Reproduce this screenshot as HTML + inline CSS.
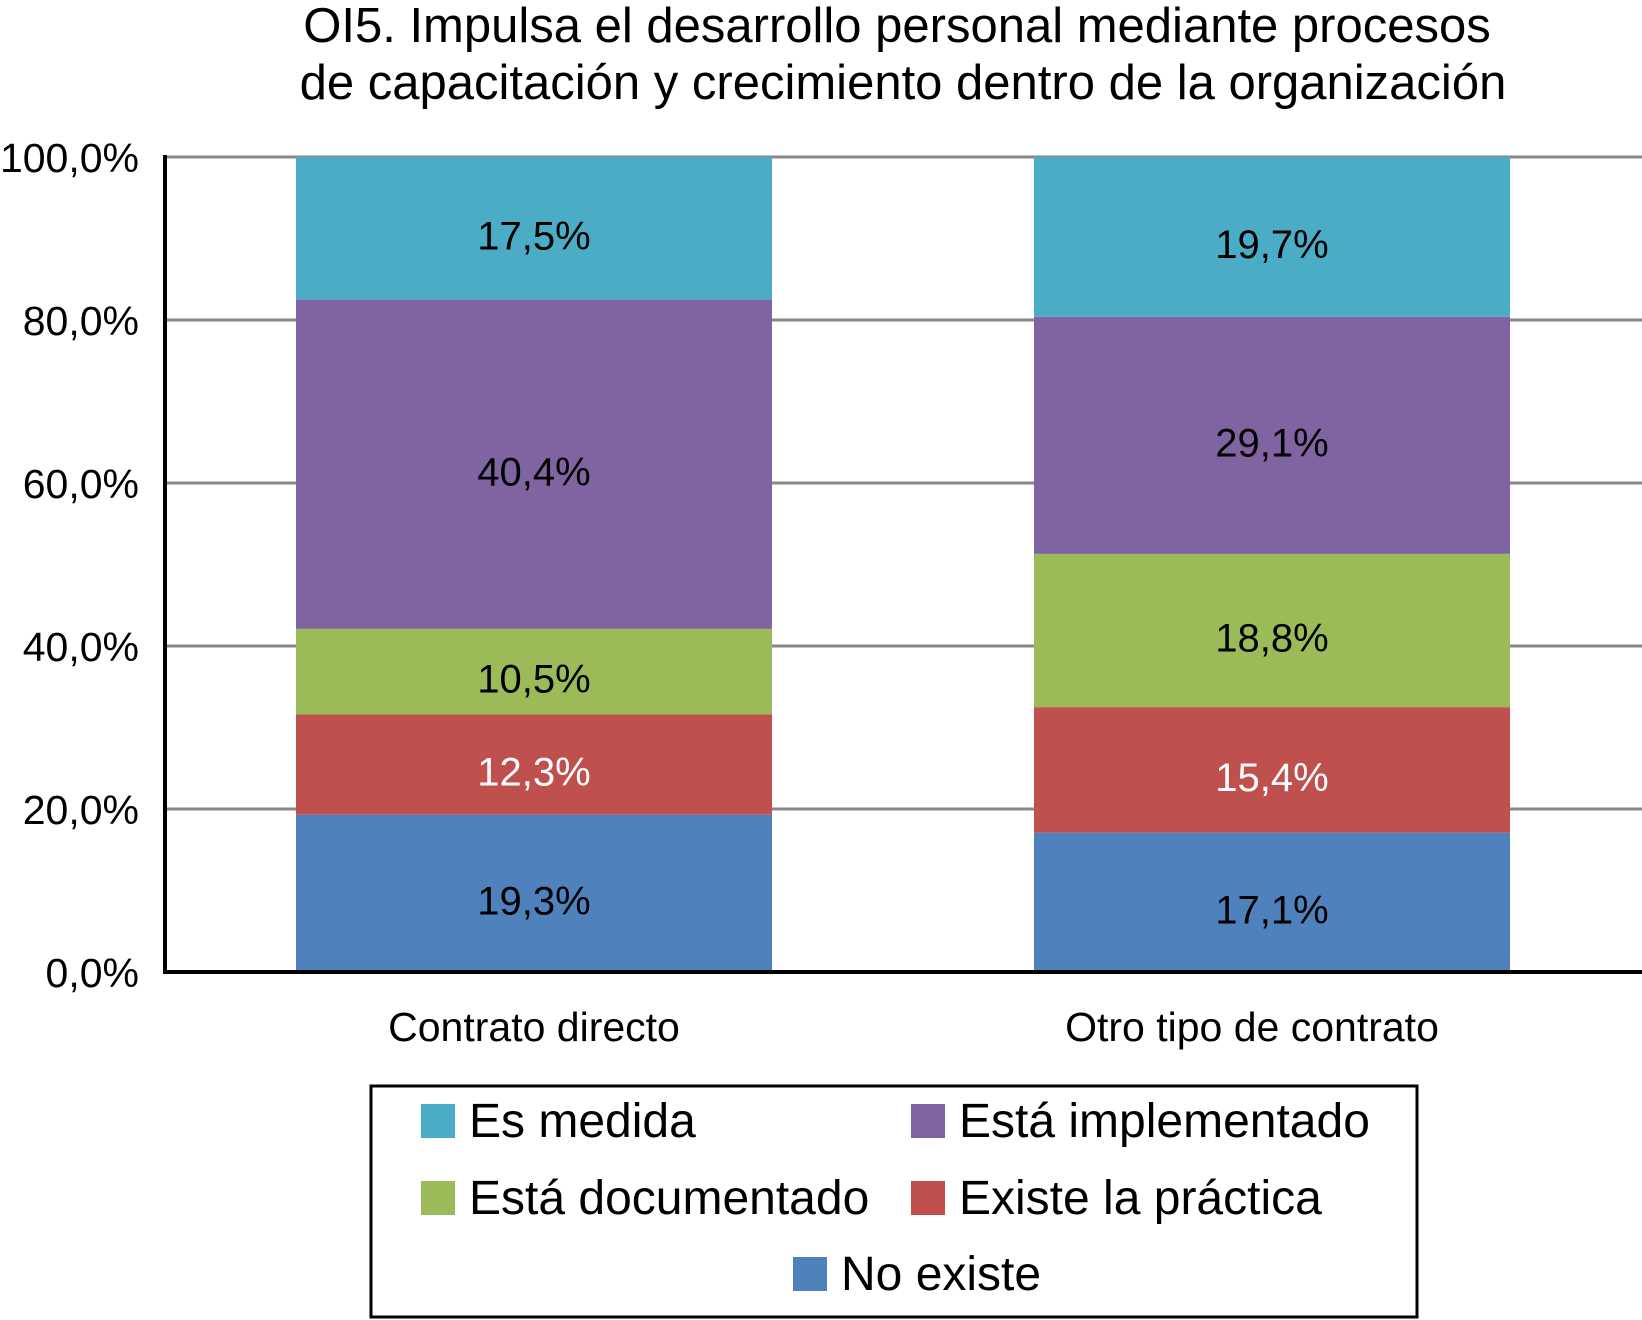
<!DOCTYPE html>
<html><head><meta charset="utf-8"><style>
body{margin:0;background:#fff;}
svg{display:block;font-family:"Liberation Sans",Arial,sans-serif;}
</style></head><body>
<svg id="c" width="1642" height="1320" viewBox="0 0 1642 1320">
<text x="897" y="42" font-size="49" text-anchor="middle">OI5. Impulsa el desarrollo personal mediante procesos</text>
<text x="903" y="99" font-size="49" text-anchor="middle">de capacitación y crecimiento dentro de la organización</text>
<g id="grid"></g><g id="bars"></g><g id="axes"></g>
<rect x="371" y="1086" width="1046" height="231" fill="none" stroke="#000" stroke-width="3"/>
<g id="legend"></g>
</svg>
<script>
const categories=["Contrato directo","Otro tipo de contrato"];
const seriesNames=["No existe","Existe la práctica","Está documentado","Está implementado","Es medida"];
const noExiste=[19.3,17.1];
const existePractica=[12.3,15.4];
const documentado=[10.5,18.8];
const implementado=[40.4,29.1];
const esMedida=[17.5,19.7];
const ticks=[0,20,40,60,80,100];
const tickLabels=["0,0%","20,0%","40,0%","60,0%","80,0%","100,0%"];
const series=[noExiste,existePractica,documentado,implementado,esMedida];
const colors=["#4f81bd","#c0504d","#9bbb59","#8064a2","#4bacc6"];
const textColors=["#000","#fff","#000","#000","#000"];
const NS="http://www.w3.org/2000/svg";
const plotTop=157,plotBot=972,plotLeft=165,plotRight=1642;
const yScale=v=>plotBot-(v/100)*(plotBot-plotTop);
const catX=[534,1272],bw=476;
function mk(t,a,p){const e=document.createElementNS(NS,t);for(const k in a)e.setAttribute(k,a[k]);p.appendChild(e);return e;}
const grid=document.getElementById('grid'),bars=document.getElementById('bars'),axes=document.getElementById('axes'),leg=document.getElementById('legend');
ticks.forEach((t,i)=>{
 if(t>0){const l=mk('line',{x1:plotLeft,x2:plotRight,y1:yScale(t),y2:yScale(t),stroke:'#888',"stroke-width":3},grid);
 
 }
 const tx=mk('text',{x:139,y:yScale(t)+15,"font-size":41,"text-anchor":"end"},axes);tx.textContent=tickLabels[i];
 
 
});
const ax=mk('line',{x1:plotLeft,x2:plotLeft,y1:plotTop-2,y2:plotBot+2,stroke:'#000',"stroke-width":4},axes);


const xa=mk('line',{x1:plotLeft-2,x2:plotRight,y1:plotBot,y2:plotBot,stroke:'#000',"stroke-width":4},axes);


categories.forEach((c,ci)=>{
 let acc=0;
 series.forEach((s,si)=>{
  const v=s[ci],y0=yScale(acc),y1=yScale(Math.min(100,acc+v));
  const r=mk('rect',{x:catX[ci]-bw/2,y:y1,width:bw,height:y0-y1,fill:colors[si]},bars);
  
  
  const tx=mk('text',{x:catX[ci],y:(y0+y1)/2+21,"font-size":40,"text-anchor":"middle",fill:textColors[si]},bars);
  tx.textContent=v.toFixed(1).replace('.',',')+'%';
  
  
  acc+=v;
 });
 const cl=mk('text',{x:catX[ci]-(ci?20:0),y:1041,"font-size":41,"text-anchor":"middle"},axes);cl.textContent=c;
 
 
});
const legPos=[[4,421,1121],[3,911,1121],[2,421,1198],[1,911,1198],[0,793,1274]];
legPos.forEach(([si,lx,ly])=>{
 const r=mk('rect',{x:lx,y:ly-17,width:34,height:34,fill:colors[si]},leg);
 
 
 const t=mk('text',{x:lx+48,y:ly+16,"font-size":48},leg);t.textContent=seriesNames[si];
 
 
});
</script>
</body></html>
